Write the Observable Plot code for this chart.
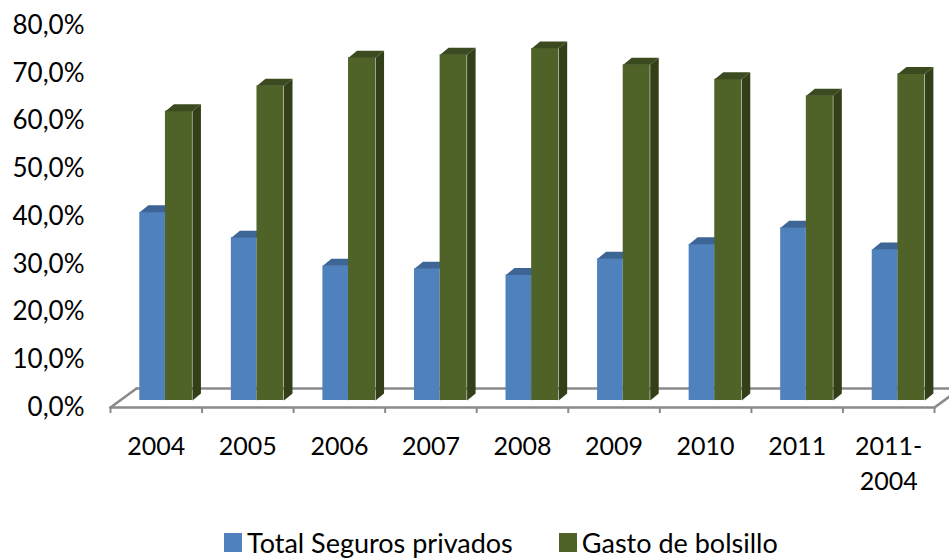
<!DOCTYPE html>
<html><head><meta charset="utf-8">
<script src="https://cdn.jsdelivr.net/npm/d3@7"></script>
<script src="https://cdn.jsdelivr.net/npm/@observablehq/plot@0.6"></script>
<style>
html,body{margin:0;padding:0;background:#fff;}
#wrap{position:relative;width:949px;height:560px;overflow:hidden;background:#fff;}
#legend{position:absolute;left:224px;top:525px;}
.leg-swatch{margin-right:46px !important;}
.leg-swatch > svg{margin-right:5px !important;}
</style>
</head><body><div id="wrap"><div id="chart"></div><div id="legend"></div></div>
<script>
const categories = ["2004","2005","2006","2007","2008","2009","2010","2011","2011-\n2004"];
const seguros  = [39.4, 34.1, 28.2, 27.6, 26.3, 29.7, 32.7, 36.2, 31.6];
const bolsillo = [60.6, 65.9, 71.8, 72.4, 73.7, 70.3, 67.3, 63.8, 68.4];
const series = ["Total Seguros privados", "Gasto de bolsillo"];
const yTicks = [0, 10, 20, 30, 40, 50, 60, 70, 80];

const frontColors = ["#4f81bd", "#4f6228"];
const topColors   = ["#3d6595", "#3c4a1f"];
const sideColors  = ["#3a5f8e", "#323f19"];
const floorColor  = "#8a8a8a";

const W = 949, H = 505, ML = 110, MR = 15, MT = 18, MB = 105;
const n = categories.length;
const pxX = (W - ML - MR) / n;
const pxY = (H - MT - MB) / 80;
const dX = 8.5 / pxX, dY = 7 / pxY;           // bar depth
const fX = 26 / pxX, fYb = 12 / pxY, fYf = -7 / pxY; // floor depth
const slots = [[0.32, 0.60], [0.60, 0.895]];

const valuesBySeries = [seguros, bolsillo];
const bars = [];
valuesBySeries.forEach((vals, s) => vals.forEach((v, i) => {
  bars.push({s, i, x1: i + slots[s][0], x2: i + slots[s][1], v});
}));

function topPoly(b) {
  return [[b.x1, b.v], [b.x2, b.v], [b.x2 + dX, b.v + dY], [b.x1 + dX, b.v + dY]]
    .map(([x, y]) => ({x, y, id: `t${b.s}-${b.i}`}));
}
function sidePoly(b) {
  return [[b.x2, 0], [b.x2 + dX, dY], [b.x2 + dX, b.v + dY], [b.x2, b.v]]
    .map(([x, y]) => ({x, y, id: `s${b.s}-${b.i}`}));
}

const floor = [
  {id: "front", x: 0, y: fYf}, {id: "front", x: n, y: fYf},
  {id: "back", x: fX, y: fYb}, {id: "back", x: n + fX, y: fYb},
  {id: "left", x: 0, y: fYf}, {id: "left", x: fX, y: fYb},
  {id: "right", x: n, y: fYf}, {id: "right", x: n + fX, y: fYb}
];

const marks = [
  Plot.line(floor, {x: "x", y: "y", z: "id", stroke: floorColor, strokeWidth: 2.6}),
  Plot.ruleX(d3.range(n + 1), {y1: fYf, y2: fYf - 6 / pxY, stroke: floorColor, strokeWidth: 2})
];
[0, 1].forEach(s => {
  const bs = bars.filter(b => b.s === s);
  marks.push(
    Plot.rect(bs, {x1: "x1", x2: "x2", y1: 0, y2: "v", fill: frontColors[s]}),
    Plot.line(bs.flatMap(topPoly), {x: "x", y: "y", z: "id", fill: topColors[s], stroke: "none"}),
    Plot.line(bs.flatMap(sidePoly), {x: "x", y: "y", z: "id", fill: sideColors[s], stroke: "none"})
  );
});
marks.push(
  Plot.axisY(yTicks, {tickSize: 0, tickPadding: 26, dy: 7, fontSize: 26, fill: "#000", label: null,
    tickFormat: d => d.toFixed(1).replace(".", ",") + "%"}),
  Plot.axisX(d3.range(n).map(i => i + 0.5), {tickSize: 0, tickPadding: 30, fontSize: 25, fill: "#000",
    label: null, lineHeight: 1.4, tickFormat: d => categories[Math.floor(d)]})
);

const chart = Plot.plot({
  width: W, height: H,
  marginLeft: ML, marginRight: MR, marginTop: MT, marginBottom: MB,
  x: {type: "linear", domain: [0, n]},
  y: {type: "linear", domain: [0, 80]},
  style: {fontFamily: "Lato, sans-serif", background: "#fff", color: "#000"},
  marks
});
document.getElementById("chart").appendChild(chart);

const legend = Plot.legend({
  color: {type: "ordinal", domain: series, range: frontColors},
  swatchWidth: 18, swatchHeight: 19, className: "leg",
  style: {fontFamily: "Lato, sans-serif", fontSize: "27px", color: "#000", height: "35px", minHeight: "35px"}
});
document.getElementById("legend").appendChild(legend);
</script>
</body></html>
